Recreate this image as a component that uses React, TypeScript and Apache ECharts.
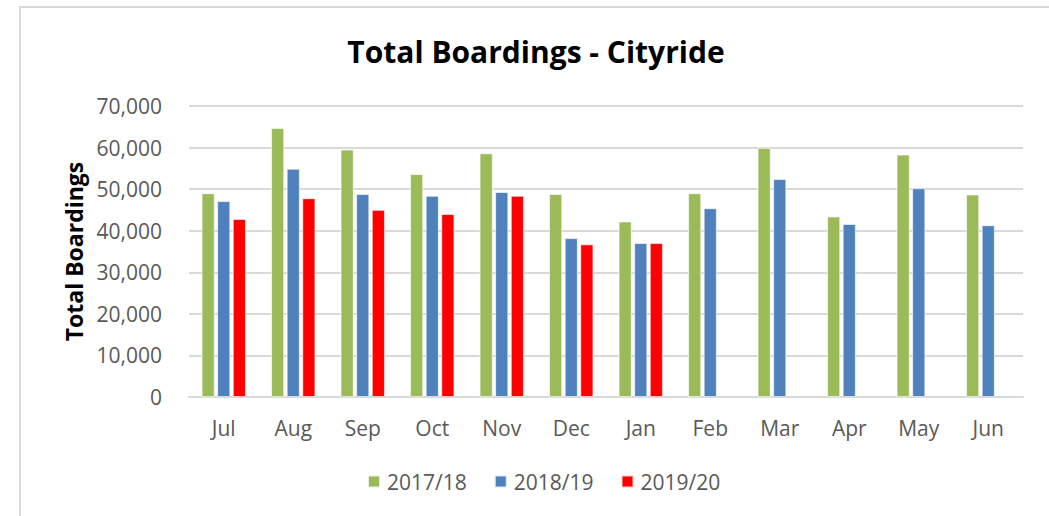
import React, { useEffect, useRef } from "react";
import * as echarts from "echarts";

const months = ["Jul", "Aug", "Sep", "Oct", "Nov", "Dec", "Jan", "Feb", "Mar", "Apr", "May", "Jun"];
const seriesNames = ["2017/18", "2018/19", "2019/20"];
const fy1718 = [49000, 64700, 59500, 53600, 58600, 48800, 42200, 49000, 59900, 43400, 58300, 48700];
const fy1819 = [47100, 54900, 48800, 48400, 49300, 38200, 37000, 45400, 52400, 41600, 50200, 41300];
const fy1920: (number | null)[] = [42800, 47800, 45000, 44000, 48400, 36700, 37000, null, null, null, null, null];
const colors = ["#9BBB59", "#4F81BD", "#FF0000"];
const FONT = "'Open Sans', 'Noto Sans', sans-serif";

export default function App() {
  const ref = useRef<HTMLDivElement>(null);
  useEffect(() => {
    if (!ref.current) return;
    const chart = echarts.init(ref.current, undefined, { renderer: "svg" });
    const mk = (name: string, data: (number | null)[], color: string) => ({
      name,
      type: "bar" as const,
      data,
      barWidth: 13,
      barGap: "20%",
      itemStyle: { color, borderColor: "rgba(255,255,255,0.8)", borderWidth: 0.8 },
    });
    chart.setOption({
      animation: false,
      backgroundColor: "#ffffff",
      graphic: [
        {
          type: "rect",
          shape: { x: 20, y: 7, width: 1200, height: 700 },
          style: { fill: "none", stroke: "#d9d9d9", lineWidth: 2 },
          silent: true,
        },
        {
          type: "text",
          x: 536,
          y: 51,
          style: {
            text: "Total Boardings - Cityride",
            font: `bold 30px ${FONT}`,
            fill: "#000000",
            align: "center",
            verticalAlign: "middle",
          },
        },
      ],
      grid: { left: 189, right: 26, top: 106, bottom: 119 },
      legend: {
        data: seriesNames,
        top: 466,
        left: 362,
        itemWidth: 12,
        itemHeight: 12,
        itemGap: 27,
        icon: "rect",
        textStyle: { fontFamily: FONT, fontSize: 21, color: "#595959", padding: [0, 0, 0, 2] },
      },
      xAxis: {
        type: "category",
        data: months,
        axisLine: { show: true, lineStyle: { color: "#d9d9d9", width: 2 } },
        axisTick: { show: false },
        axisLabel: { fontFamily: FONT, fontSize: 21, color: "#595959", margin: 20 },
      },
      yAxis: {
        type: "value",
        min: 0,
        max: 70000,
        interval: 10000,
        name: "Total Boardings",
        nameLocation: "middle",
        nameGap: 104,
        nameRotate: 90,
        nameTextStyle: { fontFamily: FONT, fontSize: 23, fontWeight: "bold", color: "#000000" },
        axisLine: { show: false },
        axisTick: { show: false },
        splitLine: { lineStyle: { color: "#d9d9d9", width: 2 } },
        axisLabel: {
          fontFamily: FONT,
          fontSize: 21,
          color: "#595959",
          margin: 27,
          formatter: (v: number) => v.toLocaleString("en-US"),
        },
      },
      series: [mk(seriesNames[0], fy1718, colors[0]), mk(seriesNames[1], fy1819, colors[1]), mk(seriesNames[2], fy1920, colors[2])],
    });
    return () => chart.dispose();
  }, []);
  return <div ref={ref} style={{ position: "fixed", left: 0, top: 0, width: 1049, height: 516 }} />;
}
